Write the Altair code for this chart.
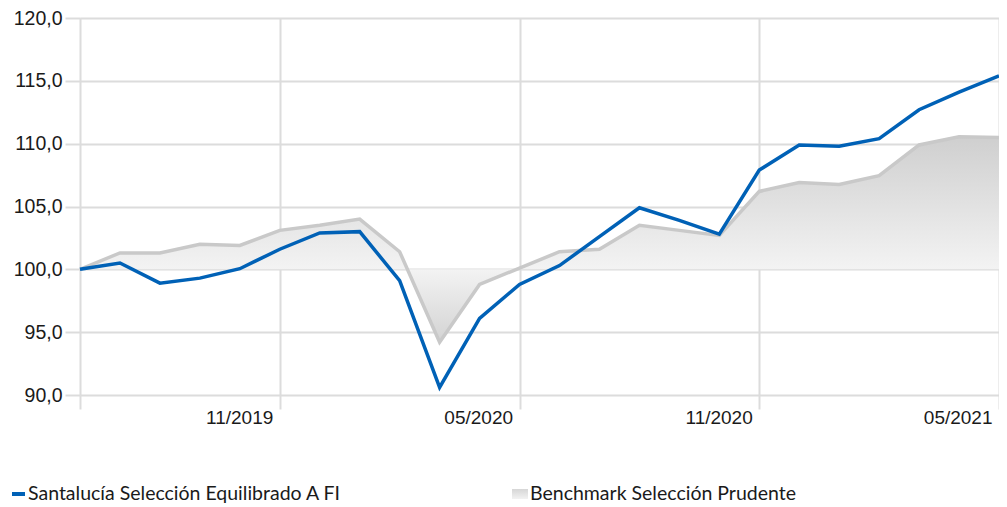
import altair as alt
import pandas as pd

meses = ["06/2019", "07/2019", "08/2019", "09/2019", "10/2019", "11/2019",
         "12/2019", "01/2020", "02/2020", "03/2020", "04/2020", "05/2020",
         "06/2020", "07/2020", "08/2020", "09/2020", "10/2020", "11/2020",
         "12/2020", "01/2021", "02/2021", "03/2021", "04/2021", "05/2021"]
fondo = [100.0, 100.5, 98.9, 99.3, 100.05, 101.6, 102.9, 103.0, 99.1, 90.6,
         96.1, 98.8, 100.3, 102.6, 104.9, 103.9, 102.8, 107.9, 109.9, 109.8,
         110.4, 112.7, 114.1, 115.4]
benchmark = [100.0, 101.3, 101.3, 102.0, 101.9, 103.1, 103.5, 104.0, 101.4, 94.2,
             98.8, 100.1, 101.4, 101.6, 103.5, 103.1, 102.7, 106.2, 106.9, 106.75,
             107.45, 109.9, 110.55, 110.5]
x_ticks = ["06/2019", "11/2019", "05/2020", "11/2020", "05/2021"]
y_ticks = [90, 95, 100, 105, 110, 115, 120]
series = ["Santalucía Selección Equilibrado A FI", "Benchmark Selección Prudente"]

df = pd.DataFrame({"mes": meses, "fondo": fondo, "benchmark": benchmark})

BLUE = "#0061b6"
GRAYLINE = "#c9c9c9"
GRID = "#dcdcdc"
FONT = "Liberation Sans"

x_enc = alt.X(
    "mes:O", sort=None, title=None,
    scale=alt.Scale(type="point", padding=0),
    axis=alt.Axis(
        values=x_ticks, labelAngle=0, grid=True, gridColor=GRID, gridWidth=2,
        domain=False, tickColor=GRID, tickWidth=2, tickSize=14,
        labelAlign="right", labelBaseline="top", labelOffset=-7, labelPadding=-1,
        labelFont=FONT, labelFontSize=19, labelColor="#1a1a1a",
        labelExpr="datum.value == '06/2019' ? '' : datum.value",
        labelOverlap=False,
    ),
)
y_scale = alt.Scale(domain=[90, 120], nice=False, zero=False)
y_axis = alt.Axis(
    values=y_ticks, grid=True, gridColor=GRID, gridWidth=2, domain=False,
    tickColor=GRID, tickWidth=2, tickSize=15, labelPadding=3,
    labelFont=FONT, labelFontSize=19.5, labelColor="#1a1a1a",
    labelExpr="replace(format(datum.value, '.1f'), '.', ',')",
)

gradient = alt.LinearGradient(
    gradient="linear", x1=0, y1=0, x2=0, y2=1,
    stops=[
        alt.GradientStop(offset=0, color="#cfcfcf"),
        alt.GradientStop(offset=0.645, color="#f3f3f3"),
        alt.GradientStop(offset=1, color="#d3d3d3"),
    ],
)

area = alt.Chart(df).mark_area(color=gradient, line=False).encode(
    x=x_enc,
    y=alt.Y("benchmark:Q", scale=y_scale, axis=y_axis, title=None),
    y2=alt.datum(100),
)
bench_line = alt.Chart(df).mark_line(color=GRAYLINE, strokeWidth=3.5).encode(
    x=x_enc, y=alt.Y("benchmark:Q", scale=y_scale, axis=y_axis, title=None),
)
fund_line = alt.Chart(df).mark_line(color=BLUE, strokeWidth=3.5).encode(
    x=x_enc, y=alt.Y("fondo:Q", scale=y_scale, axis=y_axis, title=None),
)

leg = pd.DataFrame({"serie": series})
LFONT = "Lato"
LY = 476
leg1_sym = alt.Chart(leg.iloc[[0]]).mark_rect(color=BLUE).encode(
    x=alt.value(-68), x2=alt.value(-55), y=alt.value(LY - 2), y2=alt.value(LY + 2))
leg1_txt = alt.Chart(leg.iloc[[0]]).mark_text(
    align="left", baseline="middle", font=LFONT, fontSize=19.5, color="#1a1a1a"
).encode(x=alt.value(-52), y=alt.value(LY), text="serie:N")
leg2_sym = alt.Chart(leg.iloc[[1]]).mark_rect(
    color=alt.LinearGradient(gradient="linear", x1=0, y1=0, x2=0, y2=1,
                             stops=[alt.GradientStop(offset=0, color="#d6d6d6"),
                                    alt.GradientStop(offset=1, color="#f2f2f2")])
).encode(x=alt.value(432), x2=alt.value(448), y=alt.value(LY - 5), y2=alt.value(LY + 5))
leg2_txt = alt.Chart(leg.iloc[[1]]).mark_text(
    align="left", baseline="middle", font=LFONT, fontSize=19.5, color="#1a1a1a"
).encode(x=alt.value(450), y=alt.value(LY), text="serie:N")

chart = alt.layer(area, bench_line, fund_line, leg1_sym, leg1_txt, leg2_sym, leg2_txt).properties(
    width=919, height=377,
    autosize=alt.AutoSizeParams(type="none"),
    padding={"left": 72, "top": 10, "right": 0, "bottom": 110},
).configure_view(stroke=None).configure(background="white")

chart.save("out.html", embed_options={"renderer": "svg", "actions": False})
